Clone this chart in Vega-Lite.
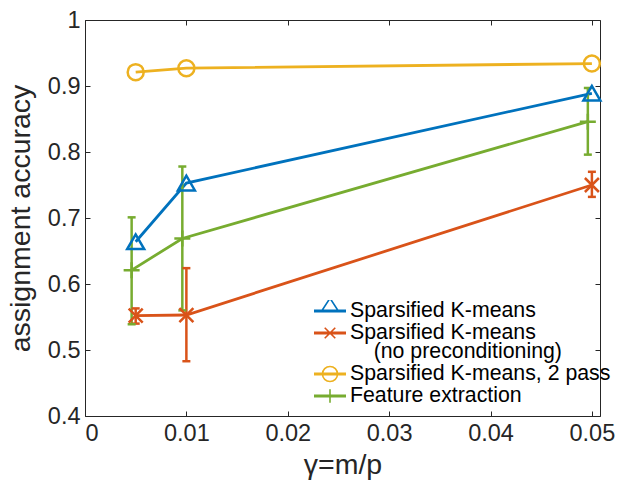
{
  "$schema": "https://vega.github.io/schema/vega-lite/v6.json",
  "width": 515,
  "height": 396,
  "autosize": {"type": "none"},
  "padding": {"left": 85, "top": 20, "right": 19, "bottom": 65},
  "background": "white",
  "config": {
    "view": {"stroke": "#262626", "strokeWidth": 1},
    "font": "Liberation Sans",
    "axis": {
      "labelFont": "Liberation Sans", "labelFontSize": 23.5, "labelColor": "#262626",
      "titleFont": "Liberation Sans", "titleFontWeight": "normal", "titleColor": "#262626", "titleFontSize": 28.5,
      "tickColor": "#262626", "tickSize": -5, "tickWidth": 1, "domain": false, "grid": false, "labelPadding": 10
    },
    "legend": {
      "labelFont": "Liberation Sans", "labelFontSize": 21.3, "labelColor": "black", "labelLimit": 400,
      "labelOffset": 3, "symbolSize": 1024, "symbolStrokeWidth": 1.6, "padding": 0, "rowPadding": 0,
      "clipHeight": 22, "symbolFillColor": "transparent"
    },
    "style": {"guide-label": {"lineHeight": 19}}
  },
  "data": {
    "values": [
      {"series": "Sparsified K-means", "x": 0.005, "acc": 0.664},
      {"series": "Sparsified K-means", "x": 0.01, "acc": 0.753},
      {"series": "Sparsified K-means", "x": 0.05, "acc": 0.889},
      {"series": "Sparsified K-means (no preconditioning)", "x": 0.005, "acc": 0.552, "lo": 0.540, "hi": 0.563},
      {"series": "Sparsified K-means (no preconditioning)", "x": 0.01, "acc": 0.553, "lo": 0.483, "hi": 0.624},
      {"series": "Sparsified K-means (no preconditioning)", "x": 0.05, "acc": 0.750, "lo": 0.732, "hi": 0.770},
      {"series": "Sparsified K-means, 2 pass", "x": 0.005, "acc": 0.921},
      {"series": "Sparsified K-means, 2 pass", "x": 0.01, "acc": 0.927},
      {"series": "Sparsified K-means, 2 pass", "x": 0.05, "acc": 0.934},
      {"series": "Feature extraction", "x": 0.0046, "acc": 0.621, "lo": 0.539, "hi": 0.701},
      {"series": "Feature extraction", "x": 0.0096, "acc": 0.669, "lo": 0.560, "hi": 0.778},
      {"series": "Feature extraction", "x": 0.0496, "acc": 0.846, "lo": 0.796, "hi": 0.897}
    ]
  },
  "resolve": {"axis": {"x": "independent", "y": "independent"}},
  "layer": [
    {
      "transform": [{"filter": "datum.acc > 5"}],
      "mark": {"type": "point", "filled": false, "opacity": 1},
      "encoding": {
        "x": {"field": "x", "type": "quantitative", "axis": null},
        "y": {"field": "acc", "type": "quantitative", "axis": null},
        "color": {"field": "series", "type": "nominal",
                  "legend": {"title": null, "orient": "none", "legendX": 228, "legendY": 280,
                             "labelExpr": "datum.label == 'Sparsified K-means (no preconditioning)' ? ['Sparsified K-means', '\u200b\u00a0\u00a0\u00a0\u00a0(no preconditioning)'] : datum.label"}},
        "shape": {"field": "series", "type": "nominal",
                  "scale": {"domain": ["Sparsified K-means", "Sparsified K-means (no preconditioning)", "Sparsified K-means, 2 pass", "Feature extraction"],
                            "range": [
                              "M-1,-0.05L1,-0.05M-1,0.05L1,0.05M-0.52,0L0,-0.8L0.52,0Z",
                              "M-1,-0.05L1,-0.05M-1,0.05L1,0.05M-0.33,-0.33L0.33,0.33M-0.33,0.33L0.33,-0.33",
                              "M-1,-0.05L1,-0.05M-1,0.05L1,0.05M0.47,0A0.47,0.47,0,1,1,-0.47,0A0.47,0.47,0,1,1,0.47,0",
                              "M-1,-0.05L1,-0.05M-1,0.05L1,0.05M0,-0.42L0,0.42"
                            ]},
                  "legend": {"title": null, "orient": "none", "legendX": 228, "legendY": 280,
                             "labelExpr": "datum.label == 'Sparsified K-means (no preconditioning)' ? ['Sparsified K-means', '\u200b\u00a0\u00a0\u00a0\u00a0(no preconditioning)'] : datum.label"}}
      }
    },
    {
      "mark": {"type": "line", "strokeWidth": 2.8},
      "encoding": {
        "x": {"field": "x", "type": "quantitative",
              "scale": {"domain": [0, 0.0508], "nice": false, "zero": false},
              "axis": {"values": [0, 0.01, 0.02, 0.03, 0.04, 0.05], "format": ".2~f", "title": "γ=m/p", "titlePadding": 6}},
        "y": {"field": "acc", "type": "quantitative",
              "scale": {"domain": [0.4, 1], "nice": false, "zero": false},
              "axis": {"values": [0.4, 0.5, 0.6, 0.7, 0.8, 0.9, 1], "format": ".1~f", "title": "assignment accuracy", "titlePadding": 12}},
        "color": {"field": "series", "type": "nominal",
                  "scale": {"domain": ["Sparsified K-means", "Sparsified K-means (no preconditioning)", "Sparsified K-means, 2 pass", "Feature extraction"],
                            "range": ["#0072BD", "#D95319", "#EDB120", "#77AC30"]},
                  "legend": null}
      }
    },
    {
      "mark": {"type": "rule", "strokeWidth": 2.5},
      "encoding": {
        "x": {"field": "x", "type": "quantitative", "axis": null},
        "y": {"field": "lo", "type": "quantitative", "axis": null},
        "y2": {"field": "hi"},
        "color": {"field": "series", "type": "nominal", "legend": null}
      }
    },
    {
      "mark": {"type": "point", "shape": "M-1,0L1,0", "size": 64, "filled": false, "strokeWidth": 2.5, "opacity": 1},
      "encoding": {
        "x": {"field": "x", "type": "quantitative",
              "axis": {"orient": "top", "labels": false, "title": null, "values": [0, 0.01, 0.02, 0.03, 0.04, 0.05]}},
        "y": {"field": "lo", "type": "quantitative",
              "axis": {"orient": "right", "labels": false, "title": null, "values": [0.4, 0.5, 0.6, 0.7, 0.8, 0.9, 1]}},
        "color": {"field": "series", "type": "nominal", "legend": null}
      }
    },
    {
      "mark": {"type": "point", "shape": "M-1,0L1,0", "size": 64, "filled": false, "strokeWidth": 2.5, "opacity": 1},
      "encoding": {
        "x": {"field": "x", "type": "quantitative", "axis": null},
        "y": {"field": "hi", "type": "quantitative", "axis": null},
        "color": {"field": "series", "type": "nominal", "legend": null}
      }
    },
    {
      "transform": [{"filter": "datum.series === 'Sparsified K-means'"}],
      "mark": {"type": "point", "shape": "triangle-up", "size": 289, "filled": false, "strokeWidth": 2.5, "opacity": 1},
      "encoding": {
        "x": {"field": "x", "type": "quantitative", "axis": null},
        "y": {"field": "acc", "type": "quantitative", "axis": null},
        "color": {"field": "series", "type": "nominal", "legend": null}
      }
    },
    {
      "transform": [{"filter": "datum.series === 'Sparsified K-means (no preconditioning)'"}],
      "mark": {"type": "point", "shape": "M-1,-1L1,1M-1,1L1,-1", "size": 196, "filled": false, "strokeWidth": 2.5, "opacity": 1},
      "encoding": {
        "x": {"field": "x", "type": "quantitative", "axis": null},
        "y": {"field": "acc", "type": "quantitative", "axis": null},
        "color": {"field": "series", "type": "nominal", "legend": null}
      }
    },
    {
      "transform": [{"filter": "datum.series === 'Sparsified K-means, 2 pass'"}],
      "mark": {"type": "point", "shape": "circle", "size": 256, "filled": false, "strokeWidth": 2.5, "opacity": 1},
      "encoding": {
        "x": {"field": "x", "type": "quantitative", "axis": null},
        "y": {"field": "acc", "type": "quantitative", "axis": null},
        "color": {"field": "series", "type": "nominal", "legend": null}
      }
    },
    {
      "transform": [{"filter": "datum.series === 'Feature extraction'"}],
      "mark": {"type": "point", "shape": "M-1,0L1,0M0,-1L0,1", "size": 256, "filled": false, "strokeWidth": 2.5, "opacity": 1},
      "encoding": {
        "x": {"field": "x", "type": "quantitative", "axis": null},
        "y": {"field": "acc", "type": "quantitative", "axis": null},
        "color": {"field": "series", "type": "nominal", "legend": null}
      }
    }
  ]
}
